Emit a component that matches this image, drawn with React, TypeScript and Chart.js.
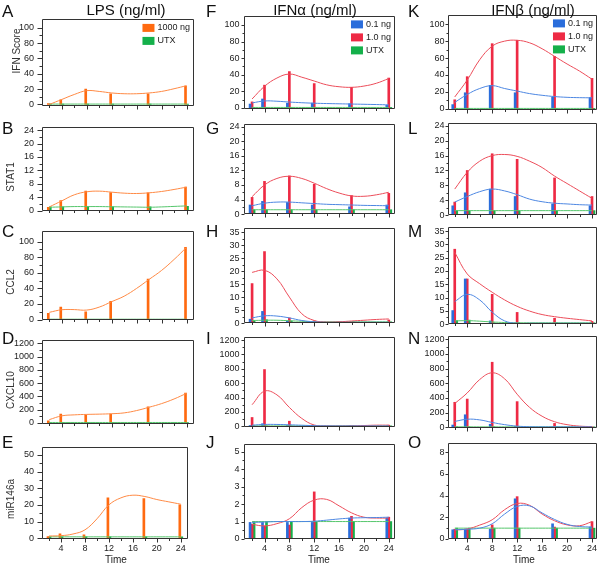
import React, { useEffect, useRef } from "react";
import { Chart, registerables } from "chart.js";
Chart.register(...registerables);

// ---------- shared categories / ticks ----------
const TIMES = [2, 4, 8, 12, 18, 24];
const CURVE_TIMES = [2, 4, 6, 8, 10, 12, 14, 16, 18, 20, 22, 24];
const X_MAJOR_TICKS = [4, 8, 12, 16, 20, 24];
const X_MINOR_TICKS = [2, 6, 10, 14, 18, 22];

const COLUMN_TITLES = ["LPS (ng/ml)", "IFNα (ng/ml)", "IFNβ (ng/ml)"];
const ROW_TITLES = ["IFN Score", "STAT1", "CCL2", "CXCL10", "miR146a"];
const PANEL_LETTERS = [
  ["A", "B", "C", "D", "E"],
  ["F", "G", "H", "I", "J"],
  ["K", "L", "M", "N", "O"],
];
const LPS_LABELS = ["1000 ng", "UTX"];
const IFN_LABELS = ["0.1 ng", "1.0 ng", "UTX"];
const X_TITLE = "Time";

const SCORE_TICKS = [0, 20, 40, 60, 80, 100];
const STAT1_TICKS = [0, 4, 8, 12, 16, 20, 24];
const CCL2_LPS_TICKS = [0, 20, 40, 60, 80, 100];
const CCL2_IFN_TICKS = [0, 5, 10, 15, 20, 25, 30, 35];
const CXCL10_TICKS = [0, 200, 400, 600, 800, 1000, 1200];
const MIR_LPS_TICKS = [0, 10, 20, 30, 40, 50];
const MIR_IFNA_TICKS = [0, 1, 2, 3, 4, 5];
const MIR_IFNB_TICKS = [0, 2, 4, 6, 8];

// ---------- LPS column ----------
const A_LPS_BARS = [1, 6, 20, 14, 14, 24];
const A_UTX_BARS = [0.5, 0.5, 0.5, 0.5, 0.5, 0.5];
const A_LPS_CURVE = [0, 6.5, 13, 18, 17, 15, 14, 14, 15, 17, 20.5, 24.5];
const A_UTX_CURVE = [0.5, 0.5, 0.5, 0.5, 0.5, 0.5, 0.5, 0.5, 0.5, 0.5, 0.5, 0.5];

const B_LPS_BARS = [1.0, 3.0, 5.8, 5.4, 5.3, 7.0];
const B_UTX_BARS = [1.1, 1.1, 1.1, 1.1, 1.1, 1.3];
const B_LPS_CURVE = [1.1, 2.9, 4.7, 5.6, 5.8, 5.5, 5.2, 5.1, 5.3, 5.7, 6.3, 7.0];
const B_UTX_CURVE = [1.0, 1.1, 1.2, 1.2, 1.2, 1.15, 1.1, 1.05, 1.0, 1.1, 1.25, 1.4];

const C_LPS_BARS = [8, 16, 10, 23.5, 52, 92.5];
const C_UTX_BARS = [0.5, 0.5, 0.5, 0.5, 0.5, 0.5];
const C_LPS_CURVE = [9.3, 12.6, 12.8, 12.2, 16, 23, 30, 40, 51.5, 63, 77, 92.5];
const C_UTX_CURVE = [0.5, 0.5, 0.5, 0.5, 0.5, 0.5, 0.5, 0.5, 0.5, 0.5, 0.5, 0.5];

const D_LPS_BARS = [30, 130, 122, 131, 240, 450];
const D_UTX_BARS = [5, 5, 5, 5, 5, 5];
const D_LPS_CURVE = [48, 105, 120, 127, 131, 137, 150, 185, 235, 290, 360, 445];
const D_UTX_CURVE = [5, 5, 5, 5, 5, 5, 5, 5, 5, 5, 5, 5];

const E_LPS_BARS = [1, 2.6, 2, 24.2, 23.8, 20];
const E_UTX_BARS = [0.8, 0.8, 0.8, 0.8, 0.8, 0.8];
const E_LPS_CURVE = [1.3, 1.5, 2.5, 5, 11.6, 20, 24.2, 25.8, 25, 23.2, 21.8, 20.4];
const E_UTX_CURVE = [0.8, 0.8, 0.8, 0.8, 0.8, 0.8, 0.8, 0.8, 0.8, 0.8, 0.8, 0.8];

// ---------- IFN-alpha column ----------
const F_LOW_BARS = [4.6, 10.7, 5.7, 5.7, 5, 3];
const F_HIGH_BARS = [7.2, 27.4, 43.8, 29.3, 24.8, 36];
const F_UTX_BARS = [0.5, 0.5, 0.5, 0.5, 0.5, 0.5];
const F_LOW_CURVE = [6, 8.3, 8, 7, 6.2, 5.6, 5.2, 4.9, 4.6, 4.3, 4, 3.6];
const F_HIGH_CURVE = [10.7, 26, 36, 40.8, 37, 32.4, 27.8, 25.5, 24.8, 26.3, 29.7, 35.4];
const F_UTX_CURVE = [0.5, 0.5, 0.5, 0.5, 0.5, 0.5, 0.5, 0.5, 0.5, 0.5, 0.5, 0.5];

const G_LOW_BARS = [2.5, 3.5, 3.2, 2.5, 2, 2.5];
const G_HIGH_BARS = [4.6, 9, 10.5, 8.2, 5.1, 5.7];
const G_UTX_BARS = [1.2, 1.2, 1.2, 1.2, 1.2, 1.2];
const G_LOW_CURVE = [2.3, 3, 3.3, 3.3, 3.1, 2.9, 2.7, 2.6, 2.5, 2.4, 2.35, 2.3];
const G_HIGH_CURVE = [4.8, 8, 9.8, 10.4, 9.8, 8.5, 7, 5.8, 5, 4.9, 5.3, 6];
const G_UTX_CURVE = [1.2, 1.2, 1.2, 1.2, 1.2, 1.2, 1.2, 1.2, 1.2, 1.2, 1.2, 1.2];

const H_LOW_BARS = [1.5, 4.5, 0.8, 0.3, 0.3, 0.3];
const H_HIGH_BARS = [15.2, 27.5, 2, 0.8, 0.5, 1.2];
const H_UTX_BARS = [1, 1.3, 0.8, 0.5, 0.5, 0.5];
const H_LOW_CURVE = [2, 2.8, 2.7, 2, 1, 0.5, 0.3, 0.3, 0.3, 0.3, 0.3, 0.3];
const H_HIGH_CURVE = [19.5, 20.3, 17, 10, 3.6, 1, 0.4, 0.5, 0.8, 1.1, 1.4, 1.6];
const H_UTX_CURVE = [1, 1.1, 1.1, 0.9, 0.7, 0.5, 0.5, 0.5, 0.5, 0.5, 0.5, 0.5];

const I_LOW_BARS = [10, 35, 10, 5, 5, 5];
const I_HIGH_BARS = [122, 790, 70, 10, 5, 15];
const I_UTX_BARS = [5, 5, 5, 5, 5, 5];
const I_LOW_CURVE = [15, 25, 25, 20, 14, 8, 5, 4, 4, 4, 4, 4];
const I_HIGH_CURVE = [300, 489, 437, 262, 109, 17, 5, 3, 5, 10, 15, 15];
const I_UTX_CURVE = [5, 5, 5, 5, 5, 5, 5, 5, 5, 5, 5, 5];

const J_LOW_BARS = [0.95, 0.95, 0.95, 0.95, 1.2, 1.2];
const J_HIGH_BARS = [0.85, 0.75, 0.8, 2.7, 1.3, 1.25];
const J_UTX_BARS = [1, 1, 1, 1, 1, 1];
const J_LOW_CURVE = [0.95, 0.97, 1.0, 1.0, 1.0, 1.02, 1.08, 1.15, 1.2, 1.22, 1.23, 1.25];
const J_HIGH_CURVE = [0.84, 0.75, 0.88, 1.16, 1.8, 2.23, 2.27, 1.9, 1.5, 1.25, 1.2, 1.2];
const J_UTX_CURVE = [1, 1, 1, 1, 1, 1, 1, 1, 1, 1, 1, 1];

// ---------- IFN-beta column ----------
const K_LOW_BARS = [5, 19, 27.8, 19, 14, 13.3];
const K_HIGH_BARS = [10.7, 38, 77, 81, 62, 36];
const K_UTX_BARS = [0.5, 0.5, 0.5, 0.5, 0.5, 0.5];
const K_LOW_CURVE = [7.6, 17, 24, 27.4, 24, 21, 18, 16, 14.5, 13.6, 13.2, 13];
const K_HIGH_CURVE = [14, 34, 58, 74, 80, 81, 78, 71, 62, 53, 44.6, 35];
const K_UTX_CURVE = [0.5, 0.5, 0.5, 0.5, 0.5, 0.5, 0.5, 0.5, 0.5, 0.5, 0.5, 0.5];

const L_LOW_BARS = [2.5, 6, 7, 5, 3, 2.5];
const L_HIGH_BARS = [3.5, 12, 16.5, 15, 10, 5];
const L_UTX_BARS = [1.2, 1.2, 1.2, 1.2, 1.2, 1.2];
const L_LOW_CURVE = [3.5, 5, 6.3, 7, 6.5, 5.5, 4.3, 3.6, 3.2, 3, 2.8, 2.7];
const L_HIGH_CURVE = [7, 11.5, 14.5, 16, 16.3, 15.8, 14.5, 12.8, 10.5, 8.5, 6.5, 4.5];
const L_UTX_CURVE = [1.2, 1.2, 1.2, 1.2, 1.2, 1.2, 1.2, 1.2, 1.2, 1.2, 1.2, 1.2];

const M_LOW_BARS = [5.1, 17, 1.2, 0.3, 0.3, 0.3];
const M_HIGH_BARS = [28.2, 17, 11.2, 4.4, 2.2, 1];
const M_UTX_BARS = [1.3, 1.5, 0.5, 0.5, 0.5, 0.5];
const M_LOW_CURVE = [8.5, 11.2, 9.1, 4.5, 1.2, 0.3, 0.3, 0.3, 0.3, 0.3, 0.3, 0.3];
const M_HIGH_CURVE = [27, 18.9, 15.2, 12, 9.1, 6.7, 4.9, 3.6, 2.8, 2.2, 1.7, 1.2];
const M_UTX_CURVE = [1.2, 1.3, 1.1, 0.8, 0.6, 0.5, 0.5, 0.5, 0.5, 0.5, 0.5, 0.5];

const N_LOW_BARS = [30, 170, 40, 10, 5, 5];
const N_HIGH_BARS = [340, 384, 886, 349, 52, 5];
const N_UTX_BARS = [5, 5, 5, 5, 5, 5];
const N_LOW_CURVE = [79, 109, 100, 65, 35, 15, 7, 5, 5, 5, 5, 5];
const N_HIGH_CURVE = [323, 467, 650, 742, 660, 450, 270, 150, 75, 35, 15, 8];
const N_UTX_CURVE = [5, 5, 5, 5, 5, 5, 5, 5, 5, 5, 5, 5];

const O_LOW_BARS = [0.85, 0.9, 0.9, 3.7, 1.4, 1.1];
const O_HIGH_BARS = [0.9, 0.9, 1.3, 3.9, 1.1, 1.6];
const O_UTX_BARS = [1, 1, 1, 1, 1, 1];
const O_LOW_CURVE = [0.85, 0.9, 1.0, 1.4, 2.3, 3.0, 3.05, 2.4, 1.8, 1.35, 1.15, 1.1];
const O_HIGH_CURVE = [0.83, 0.92, 1.28, 1.77, 2.7, 3.27, 3.1, 2.3, 1.68, 1.3, 1.22, 1.6];
const O_UTX_CURVE = [1, 1, 1, 1, 1, 1, 1, 1, 1, 1, 1, 1];

// ---------- styles ----------
const ORANGE = { bar: "#ff6a10", line: "#ff8a45" };
const GREEN = { bar: "#14b04a", line: "#55c66c" };
const BLUE = { bar: "#2a6ddb", line: "#4d87e2" };
const RED = { bar: "#ee2a44", line: "#ec4d5a" };
const TICK_FONT = "'Liberation Sans Narrow', 'Liberation Sans', Arial, sans-serif";
const TEXT_FONT = "'Liberation Sans', Arial, sans-serif";

type Series = { label: string; bars: number[]; curve: number[]; bar: string; line: string };
type Panel = {
  col: number;
  row: number;
  series: Series[];
  yTicks: number[];
  yMinorStep: number;
  yMin: number;
  yMax: number;
};

function lps(b1: number[], c1: number[], b2: number[], c2: number[]): Series[] {
  return [
    { label: LPS_LABELS[0], bars: b1, curve: c1, ...ORANGE },
    { label: LPS_LABELS[1], bars: b2, curve: c2, ...GREEN },
  ];
}
function ifn(b1: number[], c1: number[], b2: number[], c2: number[], b3: number[], c3: number[]): Series[] {
  return [
    { label: IFN_LABELS[0], bars: b1, curve: c1, ...BLUE },
    { label: IFN_LABELS[1], bars: b2, curve: c2, ...RED },
    { label: IFN_LABELS[2], bars: b3, curve: c3, ...GREEN },
  ];
}

const PANELS: Panel[] = [
  { col: 0, row: 0, series: lps(A_LPS_BARS, A_LPS_CURVE, A_UTX_BARS, A_UTX_CURVE), yTicks: SCORE_TICKS, yMinorStep: 10, yMin: -1.5, yMax: 111 },
  { col: 0, row: 1, series: lps(B_LPS_BARS, B_LPS_CURVE, B_UTX_BARS, B_UTX_CURVE), yTicks: STAT1_TICKS, yMinorStep: 2, yMin: 0, yMax: 24.8 },
  { col: 0, row: 2, series: lps(C_LPS_BARS, C_LPS_CURVE, C_UTX_BARS, C_UTX_CURVE), yTicks: CCL2_LPS_TICKS, yMinorStep: 10, yMin: 0, yMax: 113 },
  { col: 0, row: 3, series: lps(D_LPS_BARS, D_LPS_CURVE, D_UTX_BARS, D_UTX_CURVE), yTicks: CXCL10_TICKS, yMinorStep: 100, yMin: -12, yMax: 1245 },
  { col: 0, row: 4, series: lps(E_LPS_BARS, E_LPS_CURVE, E_UTX_BARS, E_UTX_CURVE), yTicks: MIR_LPS_TICKS, yMinorStep: 5, yMin: -0.5, yMax: 54.5 },
  { col: 1, row: 0, series: ifn(F_LOW_BARS, F_LOW_CURVE, F_HIGH_BARS, F_HIGH_CURVE, F_UTX_BARS, F_UTX_CURVE), yTicks: SCORE_TICKS, yMinorStep: 10, yMin: -1.5, yMax: 111 },
  { col: 1, row: 1, series: ifn(G_LOW_BARS, G_LOW_CURVE, G_HIGH_BARS, G_HIGH_CURVE, G_UTX_BARS, G_UTX_CURVE), yTicks: STAT1_TICKS, yMinorStep: 2, yMin: 0, yMax: 24.8 },
  { col: 1, row: 2, series: ifn(H_LOW_BARS, H_LOW_CURVE, H_HIGH_BARS, H_HIGH_CURVE, H_UTX_BARS, H_UTX_CURVE), yTicks: CCL2_IFN_TICKS, yMinorStep: 2.5, yMin: 0, yMax: 36.6 },
  { col: 1, row: 3, series: ifn(I_LOW_BARS, I_LOW_CURVE, I_HIGH_BARS, I_HIGH_CURVE, I_UTX_BARS, I_UTX_CURVE), yTicks: CXCL10_TICKS, yMinorStep: 100, yMin: -12, yMax: 1245 },
  { col: 1, row: 4, series: ifn(J_LOW_BARS, J_LOW_CURVE, J_HIGH_BARS, J_HIGH_CURVE, J_UTX_BARS, J_UTX_CURVE), yTicks: MIR_IFNA_TICKS, yMinorStep: 0.5, yMin: 0, yMax: 5.45 },
  { col: 2, row: 0, series: ifn(K_LOW_BARS, K_LOW_CURVE, K_HIGH_BARS, K_HIGH_CURVE, K_UTX_BARS, K_UTX_CURVE), yTicks: SCORE_TICKS, yMinorStep: 10, yMin: -1.5, yMax: 111 },
  { col: 2, row: 1, series: ifn(L_LOW_BARS, L_LOW_CURVE, L_HIGH_BARS, L_HIGH_CURVE, L_UTX_BARS, L_UTX_CURVE), yTicks: STAT1_TICKS, yMinorStep: 2, yMin: 0, yMax: 24.8 },
  { col: 2, row: 2, series: ifn(M_LOW_BARS, M_LOW_CURVE, M_HIGH_BARS, M_HIGH_CURVE, M_UTX_BARS, M_UTX_CURVE), yTicks: CCL2_IFN_TICKS, yMinorStep: 2.5, yMin: 0, yMax: 36.6 },
  { col: 2, row: 3, series: ifn(N_LOW_BARS, N_LOW_CURVE, N_HIGH_BARS, N_HIGH_CURVE, N_UTX_BARS, N_UTX_CURVE), yTicks: CXCL10_TICKS, yMinorStep: 100, yMin: -12, yMax: 1245 },
  { col: 2, row: 4, series: ifn(O_LOW_BARS, O_LOW_CURVE, O_HIGH_BARS, O_HIGH_CURVE, O_UTX_BARS, O_UTX_CURVE), yTicks: MIR_IFNB_TICKS, yMinorStep: 1, yMin: 0, yMax: 8.85 },
];

// ---------- layout (pixels) ----------
const COL_BOX = [
  { L: 42, R: 194, xMin: 0.83, xMax: 25.2, labelPad: 8, major: 5, minor: 3 },
  { L: 244, R: 395, xMin: 0.7, xMax: 25.0, labelPad: 4.5, major: 3, minor: 2 },
  { L: 448, R: 597, xMin: 0.92, xMax: 24.8, labelPad: 3.5, major: 3, minor: 2 },
];
const ROW_BOX = [
  { T: 14, B: 113 },
  { T: 122, B: 218 },
  { T: 226, B: 327 },
  { T: 335, B: 431 },
  { T: 442, B: 539 },
];
const Y_AXIS_W = 40;
const PAD_TOP = 8;
const PAD_RIGHT = 8;

function panelBox(p: Panel) {
  const c = COL_BOX[p.col];
  const r = ROW_BOX[p.row];
  const R = p.col === 0 && p.row === 4 ? 188 : c.R;
  const xH = p.row === 4 ? 24 : 6;
  return {
    left: c.L - Y_AXIS_W,
    top: r.T - PAD_TOP,
    width: R - c.L + Y_AXIS_W + PAD_RIGHT,
    height: r.B - r.T + PAD_TOP + xH,
    xH,
  };
}

const framePlugin = {
  id: "panelFrame",
  afterDraw(chart: any) {
    const spec = chart.options.plugins.panelFrame;
    if (!spec) return;
    const { ctx, chartArea: a } = chart;
    const xs = chart.scales.x;
    const ys = chart.scales.y;
    ctx.save();
    ctx.strokeStyle = "#333";
    ctx.lineWidth = 1;
    ctx.beginPath();
    const l = Math.round(a.left) + 0.5;
    const r = Math.round(a.right) - 0.5;
    const t = Math.round(a.top) + 0.5;
    const b = Math.round(a.bottom) - 0.5;
    ctx.rect(l, t, r - l, b - t);
    for (const v of X_MAJOR_TICKS) {
      const px = Math.round(xs.getPixelForValue(v)) + 0.5;
      ctx.moveTo(px, b);
      ctx.lineTo(px, b + 4);
    }
    for (const v of X_MINOR_TICKS) {
      const px = Math.round(xs.getPixelForValue(v)) + 0.5;
      ctx.moveTo(px, b);
      ctx.lineTo(px, b + 2.5);
    }
    const yt: number[] = spec.yTicks;
    const last = yt[yt.length - 1];
    for (let v = yt[0]; v <= last + 1e-9; v += spec.minorStep) {
      const isMajor = yt.some((m) => Math.abs(m - v) < 1e-9);
      const py = Math.round(ys.getPixelForValue(v)) + 0.5;
      ctx.moveTo(l - (isMajor ? spec.major : spec.minor), py);
      ctx.lineTo(l, py);
    }
    ctx.stroke();

    if (spec.legend) {
      const bars = chart.data.datasets.filter((d: any) => d.type === "bar");
      ctx.font = "9px " + TICK_FONT;
      const maxW = Math.max(...bars.map((d: any) => ctx.measureText(d.label).width));
      const rx = a.right - 4 - maxW - 3 - 12;
      bars.forEach((d: any, i: number) => {
        const ry = a.top + 4.5 + i * 13;
        ctx.fillStyle = d.backgroundColor;
        ctx.fillRect(rx, ry, 12, 8);
        ctx.fillStyle = "#222";
        ctx.textBaseline = "middle";
        ctx.textAlign = "left";
        ctx.fillText(d.label, rx + 15, ry + 4);
      });
    }
    ctx.restore();
  },
};

function buildConfig(p: Panel, xH: number): any {
  const c = COL_BOX[p.col];
  const bottom = p.row === 4;
  const barSets = p.series.map((s) => ({
    type: "bar",
    label: s.label,
    data: TIMES.map((t, k) => ({ x: t, y: s.bars[k] })),
    backgroundColor: s.bar,
    borderWidth: 0,
    barThickness: 2,
    order: 2,
  }));
  const lineSets = p.series.map((s) => ({
    type: "line",
    label: s.label + " fit",
    data: CURVE_TIMES.map((t, k) => ({ x: t, y: s.curve[k] })),
    borderColor: s.line,
    borderWidth: 1,
    pointRadius: 0,
    tension: 0.4,
    fill: false,
    order: 1,
  }));
  return {
    type: "bar",
    data: { datasets: [...barSets, ...lineSets] },
    plugins: [framePlugin],
    options: {
      animation: false,
      responsive: false,
      devicePixelRatio: 1,
      events: [],
      layout: { padding: { top: PAD_TOP, right: PAD_RIGHT, left: 0, bottom: 0 } },
      plugins: {
        legend: { display: false },
        tooltip: { enabled: false },
        panelFrame: {
          yTicks: p.yTicks,
          minorStep: p.yMinorStep,
          major: c.major,
          minor: c.minor,
          legend: p.row === 0,
        },
      },
      scales: {
        x: {
          type: "linear",
          min: c.xMin,
          max: c.xMax,
          offset: false,
          grid: { display: false, drawTicks: false },
          border: { display: false },
          ticks: {
            display: bottom,
            font: { size: 9, family: TICK_FONT },
            color: "#222",
            padding: 4,
            maxRotation: 0,
            callback: (v: any) => String(v),
          },
          afterBuildTicks: (s: any) => {
            s.ticks = X_MAJOR_TICKS.map((v) => ({ value: v }));
          },
          afterFit: (s: any) => {
            s.height = xH;
          },
        },
        y: {
          type: "linear",
          min: p.yMin,
          max: p.yMax,
          grid: { display: false, drawTicks: false },
          border: { display: false },
          ticks: {
            font: { size: 9, family: TICK_FONT },
            color: "#222",
            padding: c.labelPad,
            callback: (v: any) => String(v),
          },
          afterBuildTicks: (s: any) => {
            s.ticks = p.yTicks.map((v) => ({ value: v }));
          },
          afterFit: (s: any) => {
            s.width = Y_AXIS_W;
          },
        },
      },
    },
  };
}

function PanelChart({ panel }: { panel: Panel }) {
  const ref = useRef<HTMLCanvasElement>(null);
  const box = panelBox(panel);
  useEffect(() => {
    const chart = new Chart(ref.current as HTMLCanvasElement, buildConfig(panel, box.xH));
    return () => chart.destroy();
  }, []);
  return (
    <canvas
      ref={ref}
      width={box.width}
      height={box.height}
      style={{ position: "absolute", left: box.left, top: box.top, width: box.width, height: box.height, display: "block" }}
    />
  );
}

const TITLE_CENTERS = [126, 315, 533];
const LETTER_X = [2, 206, 408];
const LETTER_CAP_TOP = [4.5, 121.5, 225, 331.5, 436];
const ROW_TITLE_POS = [
  { x: 17, y: 51 },
  { x: 11, y: 177 },
  { x: 11, y: 282 },
  { x: 11, y: 390 },
  { x: 11, y: 499 },
];
const TIME_CENTERS = [116, 319, 524];

export default function App() {
  return (
    <div
      style={{
        position: "absolute",
        left: 0,
        top: 0,
        width: 600,
        height: 565,
        background: "#fff",
        overflow: "hidden",
        fontFamily: TEXT_FONT,
        color: "#111",
      }}
    >
      {PANELS.map((p) => (
        <PanelChart key={p.col + "-" + p.row} panel={p} />
      ))}
      {COLUMN_TITLES.map((t, i) => (
        <div
          key={"ct" + i}
          style={{
            position: "absolute",
            left: TITLE_CENTERS[i] - 80,
            width: 160,
            top: 2,
            textAlign: "center",
            fontSize: 15,
            lineHeight: "15px",
            whiteSpace: "nowrap",
          }}
        >
          {t}
        </div>
      ))}
      {PANEL_LETTERS.map((col, ci) =>
        col.map((letter, ri) => (
          <div
            key={"l" + letter}
            style={{
              position: "absolute",
              left: LETTER_X[ci],
              top: LETTER_CAP_TOP[ri] - 2,
              fontSize: 17,
              lineHeight: "17px",
            }}
          >
            {letter}
          </div>
        ))
      )}
      {ROW_TITLES.map((t, i) => (
        <div
          key={"rt" + i}
          style={{
            position: "absolute",
            left: ROW_TITLE_POS[i].x,
            top: ROW_TITLE_POS[i].y,
            transform: "translate(-50%, -50%) rotate(-90deg)",
            fontSize: 10,
            lineHeight: "10px",
            color: "#333",
            whiteSpace: "nowrap",
          }}
        >
          {t}
        </div>
      ))}
      {TIME_CENTERS.map((x, i) => (
        <div
          key={"tm" + i}
          style={{
            position: "absolute",
            left: x - 30,
            width: 60,
            top: 555,
            textAlign: "center",
            fontSize: 10,
            lineHeight: "10px",
            color: "#222",
          }}
        >
          {X_TITLE}
        </div>
      ))}
    </div>
  );
}
